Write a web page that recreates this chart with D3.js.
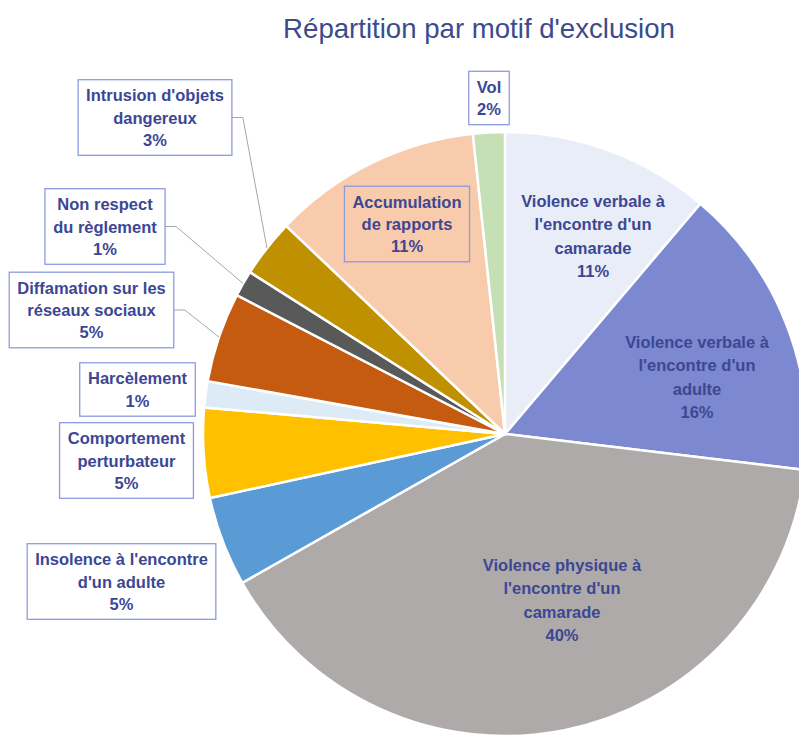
<!DOCTYPE html>
<html>
<head>
<meta charset="utf-8">
<script src="https://cdn.jsdelivr.net/npm/d3@7"></script>
<style>
  body { margin: 0; background: #fff; }
  svg { display: block; font-family: "Liberation Sans", Arial, sans-serif; }
</style>
</head>
<body>
<div id="chart"></div>
<script>
// data, clockwise from 12 o'clock
var categories = [
    "Violence verbale à l'encontre d'un camarade",
    "Violence verbale à l'encontre d'un adulte",
    "Violence physique à l'encontre d'un camarade",
    "Insolence à l'encontre d'un adulte",
    "Comportement perturbateur",
    "Harcèlement",
    "Diffamation sur les réseaux sociaux",
    "Non respect du règlement",
    "Intrusion d'objets dangereux",
    "Accumulation de rapports",
    "Vol"
];
var values = [11.2, 15.7, 39.9, 4.8, 4.8, 1.4, 4.8, 1.4, 3.1, 11.2, 1.7];
var colors = ['#E9EDF7', '#7C88CF', '#AEAAAA', '#5B9BD5', '#FFC000', '#DDEBF7',
              '#C55A11', '#595959', '#BF9000', '#F8CBAD', '#C5E0B4'];
var labelLines = [
    ["Violence verbale à", "l'encontre d'un", "camarade"],
    ["Violence verbale à", "l'encontre d'un", "adulte"],
    ["Violence physique à", "l'encontre d'un", "camarade"],
    ["Insolence à l'encontre", "d'un adulte"],
    ["Comportement", "perturbateur"],
    ["Harcèlement"],
    ["Diffamation sur les", "réseaux sociaux"],
    ["Non respect", "du règlement"],
    ["Intrusion d'objets", "dangereux"],
    ["Accumulation", "de rapports"],
    ["Vol"]
];

var title = "Répartition par motif d'exclusion";

var width = 799, height = 736,
    cx = 505, cy = 434, radius = 302;

// label centres and style: boxed labels get a frame, leader ones get a line to the slice
var labelPos = [
    { x: 593, y: 236, box: false },
    { x: 697, y: 377, box: false },
    { x: 562, y: 600, box: false },
    { x: 121.5, y: 581.5, box: true },
    { x: 126.5, y: 460.5, box: true },
    { x: 137.5, y: 389.5, box: true },
    { x: 91.5, y: 310, box: true, leader: true },
    { x: 105, y: 226.5, box: true, leader: true },
    { x: 155, y: 117.5, box: true, leader: true },
    { x: 407, y: 224, box: true, clear: true },
    { x: 489, y: 98, box: true }
];

var svg = d3.select('#chart').append('svg')
    .attr('width', width)
    .attr('height', height);

svg.append('text')
    .attr('x', 479)
    .attr('y', 38)
    .attr('text-anchor', 'middle')
    .attr('font-size', 27.6)
    .attr('fill', '#3B4B8C')
    .text(title);

var pie = d3.pie().sort(null).value(function(d) { return d; });
var arcs = pie(values);

var arc = d3.arc().innerRadius(0).outerRadius(radius);

var g = svg.append('g').attr('transform', 'translate(' + cx + ',' + cy + ')');

g.selectAll('path')
    .data(arcs)
    .enter().append('path')
    .attr('d', arc)
    .attr('fill', function(d, i) { return colors[i]; })
    .attr('stroke', '#fff')
    .attr('stroke-width', 2.5)
    .attr('stroke-linejoin', 'round');

var leaders = svg.append('g');
var labels = svg.append('g');

arcs.forEach(function(d, i) {
    var pos = labelPos[i],
        lines = labelLines[i].concat([Math.round(values[i]) + '%']),
        lineH = pos.box ? 22.2 : 23.2;

    var lg = labels.append('g');
    var rect = lg.append('rect');
    var text = lg.append('text')
        .attr('text-anchor', 'middle')
        .attr('font-size', 16.5)
        .attr('font-weight', 'bold')
        .attr('fill', '#3C4794');

    var y0 = pos.y - (lines.length - 1) / 2 * lineH + 6;
    lines.forEach(function(l, k) {
        text.append('tspan')
            .attr('x', pos.x)
            .attr('y', y0 + k * lineH)
            .text(l);
    });

    if (!pos.box) {
        rect.remove();
        return;
    }

    var bb = text.node().getBBox(),
        w = bb.width + 16,
        h = lines.length * lineH + 9;
    rect.attr('x', pos.x - w / 2)
        .attr('y', pos.y - h / 2)
        .attr('width', w)
        .attr('height', h)
        .attr('fill', pos.clear ? 'none' : '#fff')
        .attr('stroke', '#8F9BE0')
        .attr('stroke-width', 1.3);

    // leader from the box's right edge to the slice's outer arc
    if (pos.leader) {
        var mid = (d.startAngle + d.endAngle) / 2,
            ex = cx + Math.sin(mid) * radius,
            ey = cy - Math.cos(mid) * radius,
            sx = pos.x + w / 2;
        leaders.append('polyline')
            .attr('points', [[sx, pos.y], [sx + 11, pos.y], [ex, ey]].join(' '))
            .attr('fill', 'none')
            .attr('stroke', '#A6A6A6')
            .attr('stroke-width', 1);
    }
});
</script>
</body>
</html>
